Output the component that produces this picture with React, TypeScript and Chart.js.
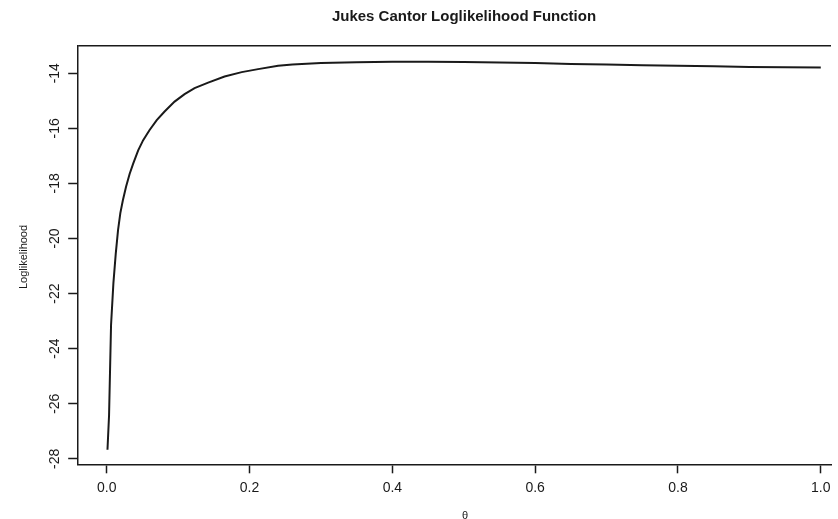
import React, { useEffect, useRef } from "react";
import { Chart, registerables } from "chart.js";

Chart.register(...registerables);

const chartTitle = "Jukes Cantor Loglikelihood Function";
const xAxisTitle = "θ";
const yAxisTitle = "Loglikelihood";

const thetaValues = [
  0.001, 0.0032, 0.006, 0.0093, 0.0126, 0.0158, 0.019, 0.0225, 0.027, 0.032,
  0.037, 0.044, 0.051, 0.06, 0.07, 0.081, 0.095, 0.109, 0.123, 0.142,
  0.165, 0.189, 0.212, 0.24, 0.26, 0.3, 0.35, 0.4, 0.45, 0.5,
  0.55, 0.6, 0.65, 0.7, 0.75, 0.8, 0.85, 0.9, 0.95, 1.0,
];
const logLikValues = [
  -27.67, -26.43, -23.14, -21.62, -20.55, -19.7, -19.08, -18.62, -18.12, -17.66,
  -17.28, -16.8, -16.43, -16.06, -15.7, -15.39, -15.03, -14.76, -14.54, -14.34,
  -14.12, -13.96, -13.85, -13.73, -13.68, -13.63, -13.6, -13.58, -13.58, -13.59,
  -13.61, -13.63, -13.66, -13.68, -13.71, -13.73, -13.75, -13.77, -13.78, -13.79,
];

const xTickValues = [0, 0.2, 0.4, 0.6, 0.8, 1.0];
const xTickLabels = ["0.0", "0.2", "0.4", "0.6", "0.8", "1.0"];
const yTickValues = [-28, -26, -24, -22, -20, -18, -16, -14];
const yTickLabels = ["-28", "-26", "-24", "-22", "-20", "-18", "-16", "-14"];

const FONT = "'Liberation Sans', Arial, Helvetica, sans-serif";
const INK = "#1a1a1a";

const decorPlugin = {
  id: "decor",
  afterDraw(chart: any) {
    const ctx = chart.ctx;
    const { left, top, right } = chart.chartArea;
    ctx.save();
    ctx.strokeStyle = INK;
    ctx.lineWidth = 1.5;
    ctx.beginPath();
    ctx.moveTo(left, top);
    ctx.lineTo(right, top);
    ctx.stroke();

    ctx.fillStyle = INK;
    ctx.font = `14px ${FONT}`;
    ctx.textAlign = "center";
    ctx.textBaseline = "middle";
    const ys = chart.scales.y;
    yTickValues.forEach((v, i) => {
      const py = ys.getPixelForValue(v);
      ctx.save();
      ctx.translate(55.5, py);
      ctx.rotate(-Math.PI / 2);
      ctx.fillText(yTickLabels[i], 0, 0);
      ctx.restore();
    });

    ctx.font = `bold 15px ${FONT}`;
    ctx.fillText(chartTitle, 464, 17);

    ctx.font = `11px ${FONT}`;
    ctx.save();
    ctx.translate(23.5, 257);
    ctx.rotate(-Math.PI / 2);
    ctx.fillText(yAxisTitle, 0, 0);
    ctx.restore();

    ctx.font = `11px ${FONT}`;
    ctx.fillText(xAxisTitle, 465, 516);
    ctx.restore();
  },
};

export default function App() {
  const canvasRef = useRef<HTMLCanvasElement | null>(null);

  useEffect(() => {
    if (!canvasRef.current) return;
    const chart = new Chart(canvasRef.current, {
      type: "line",
      data: {
        datasets: [
          {
            data: thetaValues.map((x, i) => ({ x, y: logLikValues[i] })),
            borderColor: INK,
            borderWidth: 2,
            pointRadius: 0,
            fill: false,
            tension: 0,
          },
        ],
      },
      options: {
        responsive: false,
        animation: false,
        events: [],
        layout: { padding: { top: 45.7, left: 0, right: 7, bottom: 0 } },
        plugins: {
          legend: { display: false },
          title: { display: false },
          tooltip: { enabled: false },
        },
        scales: {
          x: {
            type: "linear",
            min: -0.04,
            max: 1.0143,
            afterBuildTicks: (s: any) => {
              s.ticks = xTickValues.map((v) => ({ value: v }));
            },
            afterFit: (s: any) => {
              s.height = 54.7;
            },
            ticks: {
              autoSkip: false,
              maxRotation: 0,
              minRotation: 0,
              padding: 6,
              color: INK,
              font: { family: FONT, size: 14 },
              callback: (v: any) => {
                const i = xTickValues.indexOf(Number(v));
                return i >= 0 ? xTickLabels[i] : "";
              },
            },
            grid: {
              drawOnChartArea: false,
              drawTicks: true,
              tickLength: 9,
              tickColor: INK,
              tickWidth: 1.5,
            },
            border: { display: true, color: INK, width: 1.5 },
          },
          y: {
            type: "linear",
            min: -28.2,
            max: -13.0,
            afterBuildTicks: (s: any) => {
              s.ticks = yTickValues.map((v) => ({ value: v }));
            },
            afterFit: (s: any) => {
              s.width = 78.2;
            },
            ticks: { display: false },
            grid: {
              drawOnChartArea: false,
              drawTicks: true,
              tickLength: 10,
              tickColor: INK,
              tickWidth: 1.5,
            },
            border: { display: true, color: INK, width: 1.5 },
          },
        },
      },
      plugins: [decorPlugin],
    } as any);
    return () => chart.destroy();
  }, []);

  return (
    <div style={{ position: "absolute", left: 0, top: 0, width: 838, height: 519, background: "#fff" }}>
      <canvas ref={canvasRef} width={838} height={519} style={{ display: "block" }} />
    </div>
  );
}
